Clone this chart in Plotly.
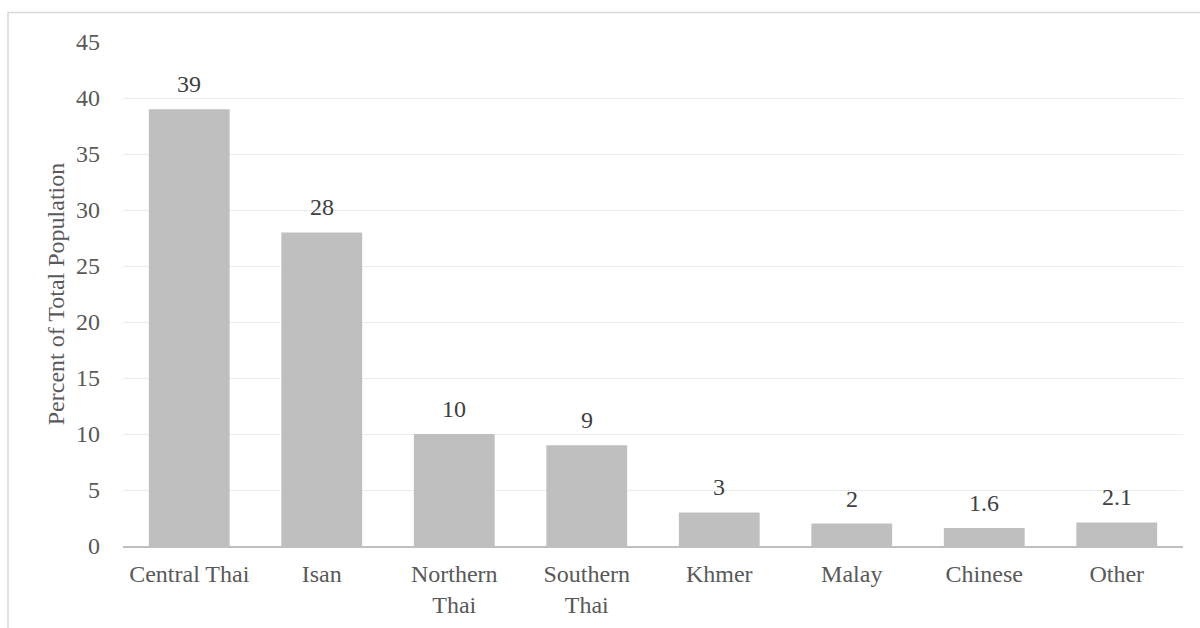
import plotly.graph_objects as go

categories = ["Central Thai", "Isan", "Northern<br>Thai", "Southern<br>Thai", "Khmer", "Malay", "Chinese", "Other"]
values = [39, 28, 10, 9, 3, 2, 1.6, 2.1]
value_labels = ["39", "28", "10", "9", "3", "2", "1.6", "2.1"]
y_ticks = [0, 5, 10, 15, 20, 25, 30, 35, 40, 45]

FONT = "Liberation Serif"
TXT = "#595959"

fig = go.Figure()
fig.add_trace(go.Bar(x=categories, y=values, marker=dict(color="#bfbfbf", line=dict(width=0)),
                     hoverinfo="skip"))

for c, v, t in zip(categories, values, value_labels):
    fig.add_annotation(x=c, y=v, text=t, showarrow=False, yanchor="bottom", yshift=10,
                       font=dict(family=FONT, size=24, color="#404040"))

L, R, T, B = 123, 17, 42, 82
W, H = 1200, 628
pw, ph = W - L - R, H - T - B
fig.add_shape(type="rect", xref="paper", yref="paper",
              x0=(8 - L) / pw, x1=(W + 4 - L) / pw,
              y0=(H - B - (H + 4)) / ph, y1=(H - B - 12.5) / ph,
              line=dict(color="#d9d9d9", width=1.5), fillcolor="rgba(0,0,0,0)", layer="below")

fig.update_layout(
    width=W, height=H, margin=dict(l=L, r=R, t=T, b=B, autoexpand=False),
    paper_bgcolor="white", plot_bgcolor="white",
    bargap=0.39, showlegend=False,
    font=dict(family=FONT, size=24, color=TXT),
    xaxis=dict(showline=True, linecolor="#bfbfbf", linewidth=2, ticks="", showgrid=False,
               ticklabelstandoff=5, automargin=False,
               tickfont=dict(family=FONT, size=24, color=TXT)),
    yaxis=dict(range=[0, 45], tickvals=y_ticks, showgrid=True, gridcolor="#ececec", gridwidth=1,
               zeroline=False, showline=False, ticks="", ticklabelstandoff=22, automargin=False,
               tickfont=dict(family=FONT, size=24, color=TXT),
               title=dict(text="Percent of Total Population", standoff=4,
                          font=dict(family=FONT, size=24, color=TXT))),
)
fig.write_html("out.html")
